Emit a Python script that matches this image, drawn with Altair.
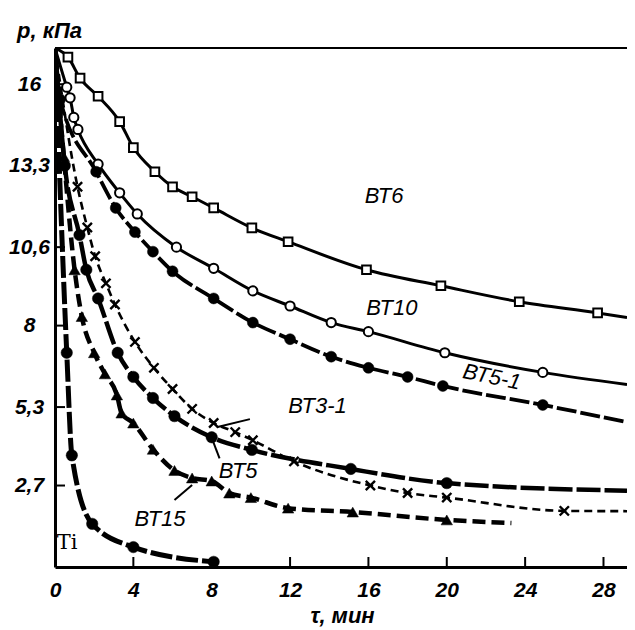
import altair as alt
import pandas as pd

# ---------------- data ----------------
START_T, START_P = 0.0, 17.2

BT6_T = [0.66, 1.28, 2.2, 3.3, 4.0, 5.1, 6.0, 7.0, 8.1, 10.05, 11.9, 15.9, 19.7, 23.7, 27.7]
BT6_P = [16.9, 16.2, 15.6, 14.76, 13.9, 13.1, 12.6, 12.27, 11.9, 11.24, 10.78, 9.85, 9.32, 8.79, 8.42]
BT6_END = (29.2, 8.27)

BT10_T = [0.6, 0.77, 0.96, 1.17, 2.2, 3.3, 4.2, 6.2, 8.1, 10.1, 12.0, 14.1, 16.0, 19.9, 24.9]
BT10_P = [15.9, 15.55, 14.9, 14.5, 13.35, 12.4, 11.7, 10.6, 9.9, 9.15, 8.65, 8.1, 7.8, 7.1, 6.45]
BT10_END = (29.2, 6.05)

BT51_T = [0.26, 2.1, 3.1, 4.08, 5.0, 6.0, 8.1, 10.1, 12.0, 14.1, 16.0, 18.0, 19.8, 24.9]
BT51_P = [15.5, 13.1, 11.9, 11.1, 10.45, 9.8, 8.9, 8.1, 7.55, 6.97, 6.6, 6.3, 6.0, 5.37]
BT51_END = (29.2, 4.8)

BT31_T = [1.15, 1.65, 2.05, 2.6, 3.06, 4.08, 5.05, 6.0, 7.0, 8.1, 9.2, 10.1, 12.2, 16.1, 18.0, 20.0, 26.0]
BT31_P = [12.6, 11.25, 10.3, 9.4, 8.7, 7.46, 6.6, 5.9, 5.24, 4.77, 4.47, 4.2, 3.5, 2.7, 2.45, 2.3, 1.86]
BT31_END = (29.2, 1.85)

BT5_T = [0.5, 1.25, 1.6, 2.2, 3.2, 4.0, 5.0, 6.1, 8.0, 10.05, 15.1, 20.0]
BT5_P = [13.3, 11.0, 9.85, 8.9, 7.1, 6.3, 5.6, 5.0, 4.3, 3.88, 3.25, 2.78]
BT5_END = (29.2, 2.53)

BT15_T = [0.45, 1.0, 1.37, 2.0, 2.55, 3.16, 3.4, 4.0, 5.0, 6.1, 7.0, 8.0, 8.9, 10.0, 11.9, 15.2, 20.0]
BT15_P = [13.6, 9.85, 8.3, 7.1, 6.4, 5.7, 5.1, 4.77, 3.9, 3.2, 2.95, 2.85, 2.45, 2.3, 1.95, 1.82, 1.56]
BT15_END = (23.3, 1.46)

TI_T = [0.6, 0.86, 1.9, 4.0, 8.1]
TI_P = [7.1, 3.7, 1.43, 0.66, 0.17]
TI_END = None

X_TICKS = [0, 4, 8, 12, 16, 20, 24, 28]
Y_TICKS = [2.7, 5.3, 8, 10.6, 13.3, 16]

LABELS = ["ВТ6", "ВТ10", "ВТ5-1", "ВТ3-1", "ВТ5", "ВТ15"]
LABEL_T = [16.8, 17.2, 22.3, 13.4, 9.35, 5.36]
LABEL_P = [12.3, 8.6, 6.3, 5.34, 3.18, 1.6]
LABEL_ANGLE = [0, 0, 12, 0, 0, 0]

TI_LABEL = ["Ti"]
TI_LABEL_T = [0.62]
TI_LABEL_P = [0.8]

# leader lines (start t, start p, end t, end p)
LEAD_T1 = [8.0, 9.95, 6.1]
LEAD_P1 = [4.28, 4.9, 2.22]
LEAD_T2 = [8.4, 8.3, 7.0]
LEAD_P2 = [3.6, 4.64, 2.72]

# ---------------- chart ----------------
W, H = 572, 519
FONT = "Liberation Sans"

xscale = alt.Scale(domain=[0, 29.2], nice=False, zero=False)
yscale = alt.Scale(domain=[0, 17.2], nice=False, zero=False)

xaxis = alt.Axis(values=X_TICKS, tickSize=0, domainWidth=3, domainColor="black",
                 labelFont=FONT, labelFontSize=21, labelFontStyle="italic", labelFontWeight="bold",
                 labelColor="black", labelPadding=12, labelFlush=False, grid=False,
                 title="τ, мин", titleFont=FONT, titleFontSize=22, titleFontStyle="italic",
                 titleFontWeight="bold", titleColor="black", titleX=287, titleY=48,
                 titleAlign="center", titleBaseline="middle")
yaxis = alt.Axis(values=Y_TICKS, tickSize=0, domainWidth=3, domainColor="black",
                 labelFont=FONT, labelFontSize=21, labelFontStyle="italic", labelFontWeight="bold",
                 labelColor="black", labelAlign="center", labelBaseline="middle", labelPadding=26,
                 grid=False, labelExpr="replace(toString(datum.value), '.', ',')",
                 title="p, кПа", titleFont=FONT, titleFontSize=22, titleFontStyle="italic",
                 titleFontWeight="bold", titleColor="black", titleAngle=0,
                 titleX=-6, titleY=-18, titleAlign="center", titleBaseline="middle")


def X(field="t"):
    return alt.X(f"{field}:Q", scale=xscale, axis=xaxis)


def Y(field="p"):
    return alt.Y(f"{field}:Q", scale=yscale, axis=yaxis)


CROSS = "M-1,-1L1,1M-1,1L1,-1"
SERIES = [
    dict(t=BT6_T, p=BT6_P, end=BT6_END, shape="square", fill="white", size=75, sw=3, dash=None),
    dict(t=BT10_T, p=BT10_P, end=BT10_END, shape="circle", fill="white", size=85, sw=3, dash=None),
    dict(t=BT51_T, p=BT51_P, end=BT51_END, shape="circle", fill="black", size=120, sw=3.8, dash=[20, 4]),
    dict(t=BT31_T, p=BT31_P, end=BT31_END, shape=CROSS, fill=None, size=85, sw=2.6, dash=[8, 5]),
    dict(t=BT5_T, p=BT5_P, end=BT5_END, shape="circle", fill="black", size=130, sw=4.5, dash=[24, 4]),
    dict(t=BT15_T, p=BT15_P, end=BT15_END, shape="triangle-up", fill="black", size=130, sw=4.5, dash=[13, 6]),
    dict(t=TI_T, p=TI_P, end=TI_END, shape="circle", fill="black", size=130, sw=5, dash=[22, 4]),
]

layers = []

# inner tick marks and top frame line
ytick_df = pd.DataFrame({"p": Y_TICKS})
xtick_df = pd.DataFrame({"t": X_TICKS[1:]})
layers.append(alt.Chart(ytick_df).mark_rule(color="black", strokeWidth=2).encode(
    y=Y(), x=alt.value(0), x2=alt.value(10)))
layers.append(alt.Chart(xtick_df).mark_rule(color="black", strokeWidth=2).encode(
    x=X(), y=alt.value(H), y2=alt.value(H - 10)))
layers.append(alt.Chart(pd.DataFrame({"k": [0]})).mark_rule(color="black", strokeWidth=2).encode(
    y=alt.value(0), x=alt.value(0), x2=alt.value(W)))

for s in SERIES:
    lt = [START_T] + s["t"] + ([s["end"][0]] if s["end"] else [])
    lp = [START_P] + s["p"] + ([s["end"][1]] if s["end"] else [])
    ldf = pd.DataFrame({"t": lt, "p": lp})
    lkw = dict(interpolate="monotone", color="black", strokeWidth=s["sw"], clip=True,
               strokeCap="butt")
    if s["dash"]:
        lkw["strokeDash"] = s["dash"]
    layers.append(alt.Chart(ldf).mark_line(**lkw).encode(x=X(), y=Y()))

    pdf = pd.DataFrame({"t": s["t"], "p": s["p"]})
    if s["fill"] is None:
        pm = alt.Chart(pdf).mark_point(shape=s["shape"], filled=False, stroke="black",
                                       strokeWidth=2.4, size=s["size"], opacity=1, clip=True)
    else:
        pm = alt.Chart(pdf).mark_point(shape=s["shape"], filled=True, fill=s["fill"],
                                       stroke="black", strokeWidth=2 if s["fill"] == "white" else 0.5,
                                       size=s["size"], opacity=1, clip=True)
    layers.append(pm.encode(x=X(), y=Y()))

# leader lines
lead_df = pd.DataFrame({"t": LEAD_T1, "p": LEAD_P1, "t2": LEAD_T2, "p2": LEAD_P2})
layers.append(alt.Chart(lead_df).mark_rule(color="black", strokeWidth=2).encode(
    x=X(), y=Y(), x2="t2:Q", y2="p2:Q"))

# series labels
lab_df = pd.DataFrame({"label": LABELS, "t": LABEL_T, "p": LABEL_P, "a": LABEL_ANGLE})
layers.append(alt.Chart(lab_df).mark_text(font=FONT, fontSize=22, fontStyle="italic",
                                          color="black", align="center", baseline="middle").encode(
    x=X(), y=Y(), text="label:N", angle=alt.Angle("a:Q", scale=None)))
ti_df = pd.DataFrame({"label": TI_LABEL, "t": TI_LABEL_T, "p": TI_LABEL_P})
layers.append(alt.Chart(ti_df).mark_text(font="DejaVu Serif", fontSize=21, color="black",
                                         align="center", baseline="middle").encode(
    x=X(), y=Y(), text="label:N"))

chart = alt.layer(*layers).properties(
    width=W, height=H,
    autosize=alt.AutoSizeParams(type="none"),
    padding={"left": 47, "top": 40, "right": 0, "bottom": 60},
    background="white",
).configure_view(stroke=None)

chart.save("out.html", embed_options={"renderer": "svg", "actions": False})
